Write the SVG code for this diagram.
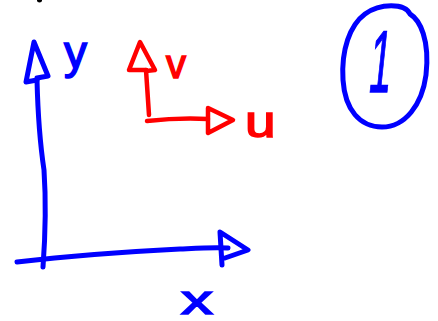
<svg xmlns="http://www.w3.org/2000/svg" width="438" height="321" viewBox="0 0 438 321">
<style>
.b{fill:none;stroke:#0000ff;stroke-width:5;stroke-linecap:round;stroke-linejoin:round}
.r{fill:none;stroke:#ff0000;stroke-width:4.5;stroke-linecap:round;stroke-linejoin:round}
.tb{fill:#0000ff;stroke:#0000ff;stroke-width:1.5;font-family:"Liberation Sans",sans-serif}
.tr{fill:#ff0000;stroke:#ff0000;stroke-width:1.5;font-family:"Liberation Sans",sans-serif}
</style>
<rect width="438" height="321" fill="#ffffff"/>
<ellipse cx="39.5" cy="0.5" rx="2.5" ry="2" fill="#000000"/>
<g id="connectors">
<path class="b" d="M43,267 C45,240 46,200 44,170 C41,150 38,120 37,80"/>
<path class="b" d="M37,80 L26,82 L34,42 L48,76 L37,78"/>
<path class="b" d="M17,262 C60,257 120,252 180,249 C200,248 215,247 228,248"/>
<path class="b" d="M222,265 L220,232 L248,250 L225,258"/>
<path class="r" d="M149,115 L146,70"/>
<path class="r" d="M146,70 L129,70 L140,42 L155,70 L146,71"/>
<path class="r" d="M147,121 C165,119 190,118 208,119"/>
<path class="r" d="M208,108 L233,120 L208,133 Z"/>
</g>
<g id="label-y"><text class="tb" x="64" y="68" font-size="46">y</text></g>
<g id="label-v"><text class="tr" x="166" y="78" font-size="40">v</text></g>
<g id="label-u"><text class="tr" font-size="44" transform="translate(245,137) scale(1.25,1)">u</text></g>
<g id="label-x"><text class="tb" font-size="40" transform="translate(181,314) scale(1.6,1)">x</text></g>
<g id="node-1">
<path class="b" d="M365,14 C380,3 405,3 410,14 C420,20 430,40 426,75 C422,105 405,127 382,127 C360,127 345,110 343,80 C341,50 350,25 365,14"/>
<text class="tb" text-anchor="middle" font-size="88" transform="translate(378,92) skewX(-6) scale(0.45,1)" stroke-width="4">1</text>
</g>
</svg>
